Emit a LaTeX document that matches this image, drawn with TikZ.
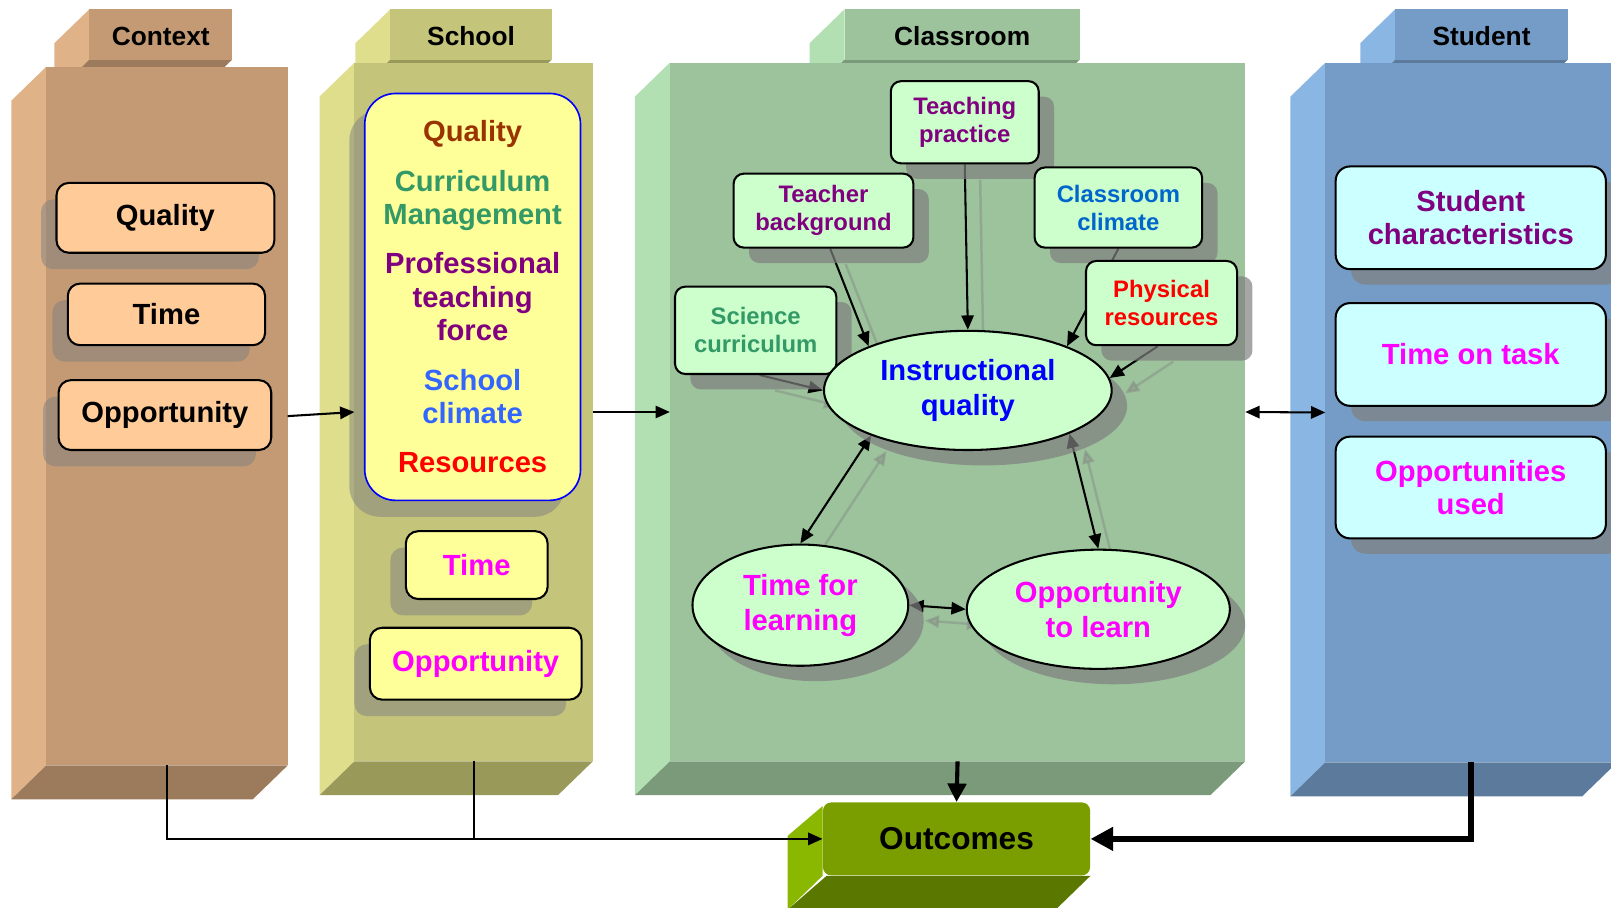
\documentclass[tikz,border=0pt]{standalone}
\usepackage{fontspec}
\setmainfont{Liberation Sans}
\usetikzlibrary{arrows.meta,shapes.geometric,shadows}

\definecolor{ctxfront}{HTML}{C49A74}
\definecolor{ctxside}{HTML}{E0B287}
\definecolor{ctxdark}{HTML}{9C7A5C}
\definecolor{ctxfill}{HTML}{FFCC99}
\definecolor{schfront}{HTML}{C4C47A}
\definecolor{schside}{HTML}{DEDE8C}
\definecolor{schdark}{HTML}{99995A}
\definecolor{schfill}{HTML}{FFFF99}
\definecolor{clsfront}{HTML}{9CC39C}
\definecolor{clsside}{HTML}{B3E0B3}
\definecolor{clsdark}{HTML}{7A9A7A}
\definecolor{clsfill}{HTML}{CCFFCC}
\definecolor{stufront}{HTML}{759CC6}
\definecolor{stuside}{HTML}{8AB6E3}
\definecolor{studark}{HTML}{5B7A9C}
\definecolor{stufill}{HTML}{CCFFFF}
\definecolor{outfront}{HTML}{7A9E00}
\definecolor{outside}{HTML}{8AB800}
\definecolor{outdark}{HTML}{5A7800}
\definecolor{qbrown}{HTML}{993300}
\definecolor{cgreen}{HTML}{339966}
\definecolor{ppurple}{HTML}{800080}
\definecolor{sblue}{HTML}{3366FF}
\definecolor{cblue}{HTML}{0066CC}
\definecolor{iqblue}{HTML}{0000FF}
\definecolor{rred}{HTML}{FF0000}
\definecolor{mgt}{HTML}{FF00FF}

\pgfdeclarelayer{back}
\pgfdeclarelayer{edges}
\pgfsetlayers{back,edges,main}

\begin{document}
\begin{tikzpicture}[x=0.5pt, y=-0.5pt,
		>={Triangle[length=7pt,width=6pt]},
		face/.style={inner sep=0pt, outer sep=0pt, anchor=north west},
		tabtext/.style={font=\fontsize{12.8}{15}\selectfont\bfseries},
		lshade/.style={drop shadow={shadow xshift=-7.5pt, shadow yshift=-8pt, fill=gray, opacity=0.5}},
		rshade/.style={drop shadow={shadow xshift=7.5pt, shadow yshift=-7.5pt, fill=gray, opacity=0.7}},
		bigbox/.style={draw=black, line width=1pt, rounded corners=6pt, align=center, inner sep=0pt,
			font=\fontsize{14.2}{16.3}\selectfont\bfseries},
		smallbox/.style={bigbox, rounded corners=5pt, fill=clsfill, rshade,
			font=\fontsize{11.6}{13.6}\selectfont\bfseries},
		oval/.style={ellipse, draw=black, line width=1pt, fill=clsfill, align=center, inner sep=0pt, rshade,
			font=\fontsize{14.2}{17}\selectfont\bfseries},
		link/.style={->, line width=1pt},
		ghost/.style={preaction={draw=gray, line width=1.2pt, opacity=0.4, transform canvas={shift={(7.5pt,-7.5pt)}}}}
	]
	\useasboundingbox (0,0) rectangle (1568,883);
	% columns
	\begin{pgfonlayer}{back}
		\foreach \nm/\xl/\xr/\yt/\yb/\ul/\ur/\ttl/\fc/\sc/\dc in {
			context/45/280/65/745/87/226/Context/ctxfront/ctxside/ctxdark,
			school/345/577/61/741/380/537/School/schfront/schside/schdark,
			classroom/652/1212/61/741/822/1051/Classroom/clsfront/clsside/clsdark,
			student/1290/1574/61/742/1358/1526/Student/stufront/stuside/studark}
		{
			% tab
			\fill[\sc] (\ul-34,42) -- (\ul,9) -- (\ul,58) -- (\ul-34,91) -- cycle;
			\fill[\dc] (\ul,58) -- (\ur,58) -- (\ur-34,91) -- (\ul-34,91) -- cycle;
			\fill[\fc] (\ul,9) rectangle (\ur,58);
			\node[tabtext] (\nm-tab) at ({(\ul+\ur)/2},35) {\ttl};
			% body
			\fill[\sc] (\xl-34,\yt+33) -- (\xl,\yt) -- (\xl,\yb) -- (\xl-34,\yb+33) -- cycle;
			\fill[\dc] (\xl,\yb) -- (\xr,\yb) -- (\xr-34,\yb+33) -- (\xl-34,\yb+33) -- cycle;
			\node[face, fill=\fc, minimum width={(\xr-\xl)*0.5pt}, minimum height={(\yb-\yt)*0.5pt}] (\nm) at (\xl,\yt) {};
		}
	\end{pgfonlayer}
	% context
	\node[bigbox, fill=ctxfill, lshade, minimum width=106pt, minimum height=34pt] (ctxq) at (161,212) {Quality};
	\node[bigbox, fill=ctxfill, lshade, minimum width=96pt, minimum height=30pt] (ctxt) at (162,306) {Time};
	\node[bigbox, fill=ctxfill, lshade, minimum width=103.5pt, minimum height=34pt] (ctxo) at (160.5,404) {Opportunity};
	% school
	\node[bigbox, draw=iqblue, line width=0.8pt, rounded corners=15pt, fill=schfill, lshade,
		minimum width=105pt, minimum height=198pt] (schq) at (460,289)
		{\textcolor{qbrown}{Quality}\\[7.7pt]
		\textcolor{cgreen}{Curriculum}\\ \textcolor{cgreen}{Management}\\[7.7pt]
		\textcolor{ppurple}{Professional}\\ \textcolor{ppurple}{teaching}\\ \textcolor{ppurple}{force}\\[7.7pt]
		\textcolor{sblue}{School}\\ \textcolor{sblue}{climate}\\[7.7pt]
		\textcolor{rred}{Resources}};
	\node[bigbox, fill=schfill, lshade, text=mgt, minimum width=69pt, minimum height=33pt] (scht) at (464,550) {Time};
	\node[bigbox, fill=schfill, lshade, text=mgt, minimum width=103pt, minimum height=35pt] (scho) at (463,646) {Opportunity};
	% classroom
	\node[smallbox, text=ppurple, minimum width=72pt, minimum height=40pt] (teach) at (939,119) {Teaching\\practice};
	\node[smallbox, text=ppurple, minimum width=87.5pt, minimum height=36pt] (teacher) at (801.5,205) {Teacher\\background};
	\node[smallbox, text=cblue, minimum width=81.5pt, minimum height=39pt] (climate) at (1088.5,202) {Classroom\\climate};
	\node[smallbox, text=rred, minimum width=73.5pt, minimum height=41pt] (phys) at (1130.5,295) {Physical\\resources};
	\node[smallbox, text=cgreen, minimum width=78.5pt, minimum height=42.5pt] (sci) at (735.5,321.5) {Science\\curriculum};
	\node[oval, text=iqblue, minimum width=140pt, minimum height=58pt] (iq) at (942,380) {Instructional\\quality};
	\node[oval, text=mgt, minimum width=105pt, minimum height=59pt] (tfl) at (779,589) {Time for\\learning};
	\node[oval, text=mgt, minimum width=128pt, minimum height=58pt] (otl) at (1069,593) {Opportunity\\to learn};
	\begin{pgfonlayer}{edges}
		\draw[link, ghost] (teach.south) -- (iq.north);
		\draw[link, ghost] (teacher.-80) -- (iq.156);
		\draw[link] (climate.south) -- (iq.24);
		\draw[link, ghost] (phys.-95) -- (iq.5);
		\draw[link, ghost] (sci.-85) -- (iq.west);
		\draw[link, <->, ghost] (iq.205) -- (tfl.north);
		\draw[link, <->, ghost] (iq.-23) -- (otl.north);
		\draw[link, <->, ghost] (tfl.east) -- (otl.west);
	\end{pgfonlayer}
	% student
	\node[bigbox, fill=stufill, rshade, rounded corners=7pt, text=ppurple, minimum width=131.5pt, minimum height=50pt] (stuc) at (1431.5,212) {Student\\characteristics};
	\node[bigbox, fill=stufill, rshade, rounded corners=7pt, text=mgt, minimum width=131.5pt, minimum height=50pt] (stut) at (1431.5,345) {Time on task};
	\node[bigbox, fill=stufill, rshade, rounded corners=7pt, text=mgt, minimum width=131.5pt, minimum height=49.5pt] (stuo) at (1431.5,474.5) {Opportunities\\used};
	% outcomes
	\node[fill=outfront, rounded corners=4pt, minimum width=130pt, minimum height=35.5pt,
		font=\fontsize{15.4}{18}\selectfont\bfseries] (outcomes) at (931,816.5) {Outcomes};
	\begin{pgfonlayer}{back}
		\fill[outside] ([shift={(-34,33)}]outcomes.north west) -- ([shift={(0,4)}]outcomes.north west)
			-- (outcomes.south west) -- ([shift={(-34,33)}]outcomes.south west) -- cycle;
		\fill[outdark] ([shift={(4,0)}]outcomes.south west) -- (outcomes.south east)
			-- ([shift={(-34,33)}]outcomes.south east) -- ([shift={(-34,33)}]outcomes.south west) -- cycle;
	\end{pgfonlayer}
	% arrows between levels
	\draw[link] (context.east) -- (school.west);
	\draw[link] (school.east) -- (classroom.west);
	\draw[link, <->] (classroom.east) -- (student.west);
	\draw[link] (context.south) |- (outcomes.west);
	\draw[line width=1pt] (school.south) -- (school.south |- outcomes.west);
	\draw[line width=2pt, -{Triangle[length=9pt,width=9pt]}] (classroom.south) -- (outcomes.north);
	\draw[line width=3pt, -{Triangle[length=11pt,width=11pt]}] (student.south) |- (outcomes.east);
\end{tikzpicture}
\end{document}
